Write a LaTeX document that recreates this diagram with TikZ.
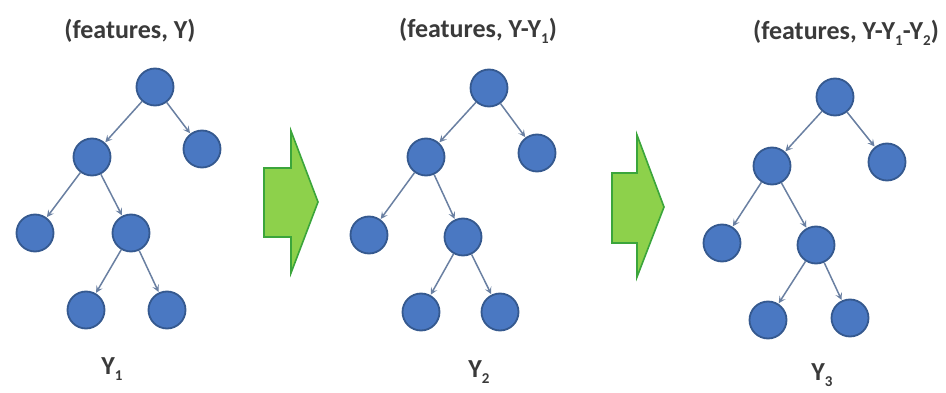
\documentclass[tikz,border=0pt]{standalone}
\usepackage{fontspec}
\setmainfont{Carlito}
\usetikzlibrary{arrows.meta}
\definecolor{nodefill}{HTML}{4A78C2}
\definecolor{nodeline}{HTML}{35598F}
\definecolor{edgecol}{HTML}{6A80A2}
\definecolor{arrfill}{HTML}{8DD14B}
\definecolor{arrline}{HTML}{3BA53B}
\definecolor{txt}{HTML}{3A3A3A}
\newcommand{\lowsub}[1]{\raisebox{-0.25em}{\fontsize{15}{15}\selectfont #1}}
\tikzset{
  treenode/.style={circle, fill=nodefill, draw=nodeline, line width=1.8pt, minimum size=37pt, inner sep=0pt},
  treeedge/.style={draw=edgecol, line width=1.5pt, -{Stealth[length=7pt,width=7pt,inset=3pt]}, shorten >=0.5pt},
  bigarrow/.style={fill=arrfill, draw=arrline, line width=1.6pt, line join=miter},
  lbl/.style={text=txt, font=\bfseries\fontsize{26}{28}\selectfont, inner sep=0pt}
}
\begin{document}
\begin{tikzpicture}[x=1pt,y=-1pt]
\useasboundingbox (0,0) rectangle (946,393);
\fill[white] (0,0) rectangle (946,393);

% ---------- tree 1 ----------
\node[lbl] (t1) at (130,31) {(features, Y)};
\node[treenode] (a0) at (155,87) {};
\node[treenode] (a1) at (92,157) {};
\node[treenode] (a2) at (202,149) {};
\node[treenode] (a3) at (35,233) {};
\node[treenode] (a4) at (131,233) {};
\node[treenode] (a5) at (86,310) {};
\node[treenode] (a6) at (167,310) {};
\node[lbl] (y1) at (112,369) {Y\lowsub{1}};
\draw[treeedge] (a0) -- (a1);
\draw[treeedge] (a0) -- (a2);
\draw[treeedge] (a1) -- (a3);
\draw[treeedge] (a1) -- (a4);
\draw[treeedge] (a4) -- (a5);
\draw[treeedge] (a4) -- (a6);

% ---------- arrow 1 ----------
\draw[bigarrow] (264,168) -- (291,168) -- (291,131) -- (318,202) -- (291,273) -- (291,237) -- (264,237) -- cycle;

% ---------- tree 2 ----------
\node[lbl] (t2) at (478,31) {(features, Y-Y\lowsub{1})};
\node[treenode] (b0) at (489,88) {};
\node[treenode] (b1) at (426,157) {};
\node[treenode] (b2) at (537,153) {};
\node[treenode] (b3) at (369,235) {};
\node[treenode] (b4) at (463,237) {};
\node[treenode] (b5) at (421,312) {};
\node[treenode] (b6) at (500,312) {};
\node[lbl] (y2) at (479,372) {Y\lowsub{2}};
\draw[treeedge] (b0) -- (b1);
\draw[treeedge] (b0) -- (b2);
\draw[treeedge] (b1) -- (b3);
\draw[treeedge] (b1) -- (b4);
\draw[treeedge] (b4) -- (b5);
\draw[treeedge] (b4) -- (b6);

% ---------- arrow 2 ----------
\draw[bigarrow] (612,173) -- (637,173) -- (637,135) -- (664,207) -- (637,277) -- (637,243) -- (612,243) -- cycle;

% ---------- tree 3 ----------
\node[lbl] (t3) at (846,33) {(features, Y-Y\lowsub{1}-Y\lowsub{2})};
\node[treenode] (c0) at (835,97) {};
\node[treenode] (c1) at (772,166) {};
\node[treenode] (c2) at (887,162) {};
\node[treenode] (c3) at (722,243) {};
\node[treenode] (c4) at (816,245) {};
\node[treenode] (c5) at (768,320) {};
\node[treenode] (c6) at (850,318) {};
\node[lbl] (y3) at (822,375) {Y\lowsub{3}};
\draw[treeedge] (c0) -- (c1);
\draw[treeedge] (c0) -- (c2);
\draw[treeedge] (c1) -- (c3);
\draw[treeedge] (c1) -- (c4);
\draw[treeedge] (c4) -- (c5);
\draw[treeedge] (c4) -- (c6);
\end{tikzpicture}
\end{document}
